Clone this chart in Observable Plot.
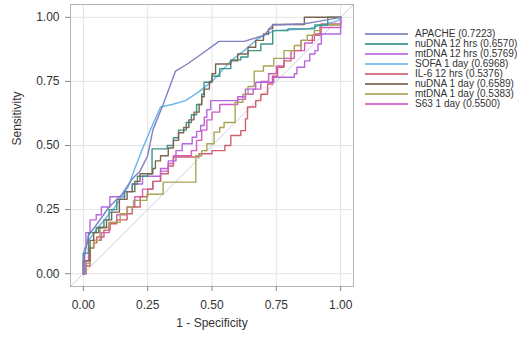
<!DOCTYPE html>
<html><head><meta charset="utf-8">
<script src="https://cdn.jsdelivr.net/npm/d3@7"></script>
<script src="https://cdn.jsdelivr.net/npm/@observablehq/plot@0.6"></script>
<style>
body{margin:0;background:#fff;}
#wrap{position:relative;width:527px;height:339px;font-family:"Liberation Sans",Arial,sans-serif;}
#legend{position:absolute;left:365px;top:29px;font-size:10px;color:#333;}
.row{display:flex;align-items:center;height:10px;line-height:10px;white-space:nowrap;}
.sw{display:block;width:43px;height:2px;margin-right:7px;opacity:0.85;}
</style>
</head><body>
<div id="wrap"><div id="chart"></div><div id="legend"></div></div>
<script>
const seriesNames = ["APACHE (0.7223)","nuDNA 12 hrs (0.6570)","mtDNA 12 hrs (0.5769)","SOFA 1 day (0.6968)","IL-6 12 hrs (0.5376)","nuDNA 1 day (0.6589)","mtDNA 1 day (0.5383)","S63 1 day (0.5500)"];
const seriesColors = ["#7f80c2","#3a9488","#b866e0","#6db8ea","#d0606e","#7d6450","#a9a556","#d25cc4"];
const tickValues = [0, 0.25, 0.5, 0.75, 1];
const xLabel = "1 - Specificity";
const yLabel = "Sensitivity";

// [1 - specificity, sensitivity]
const apache = [[0,0],[0,0.05],[0.02,0.15],[0.05,0.19],[0.1,0.26],[0.15,0.31],[0.19,0.37],[0.22,0.4],[0.25,0.46],[0.27,0.56],[0.31,0.66],[0.358,0.79],[0.404,0.818],[0.45,0.85],[0.527,0.906],[0.625,0.906],[0.703,0.93],[0.736,0.97],[0.86,0.975],[0.92,0.985],[1,1]];
const sofa = [[0,0],[0,0.08],[0.02,0.13],[0.057,0.18],[0.09,0.22],[0.123,0.26],[0.175,0.34],[0.2,0.41],[0.227,0.48],[0.26,0.56],[0.3,0.65],[0.345,0.66],[0.397,0.675],[0.45,0.71],[0.5,0.75],[0.573,0.83],[0.625,0.87],[0.677,0.916],[0.742,0.948],[0.872,0.955],[0.99,0.987],[1,1]];
const nu12 = [[0,0],[0,0.08],[0.02,0.16],[0.05,0.18],[0.08,0.21],[0.1,0.25],[0.13,0.29],[0.16,0.32],[0.19,0.35],[0.21,0.38],[0.25,0.39],[0.267,0.487],[0.326,0.5],[0.35,0.53],[0.37,0.56],[0.4,0.59],[0.42,0.62],[0.44,0.66],[0.46,0.7],[0.469,0.747],[0.5,0.77],[0.53,0.8],[0.573,0.834],[0.612,0.845],[0.64,0.87],[0.69,0.896],[0.736,0.948],[0.795,0.955],[0.9,0.97],[0.95,1],[1,1]];
const nu1 = [[0,0],[0,0.05],[0.026,0.13],[0.04,0.16],[0.06,0.18],[0.09,0.21],[0.11,0.24],[0.14,0.29],[0.17,0.32],[0.2,0.36],[0.22,0.39],[0.27,0.41],[0.28,0.44],[0.3,0.46],[0.33,0.49],[0.35,0.52],[0.37,0.55],[0.39,0.57],[0.41,0.6],[0.43,0.63],[0.45,0.66],[0.46,0.69],[0.47,0.72],[0.49,0.75],[0.5,0.78],[0.514,0.818],[0.573,0.83],[0.6,0.857],[0.64,0.883],[0.67,0.91],[0.7,0.935],[0.72,0.955],[0.736,0.972],[0.859,1],[1,1]];
const mt12 = [[0,0],[0.005,0.1],[0.01,0.16],[0.026,0.21],[0.05,0.23],[0.07,0.26],[0.103,0.3],[0.16,0.32],[0.19,0.35],[0.23,0.38],[0.3,0.41],[0.33,0.44],[0.36,0.48],[0.384,0.507],[0.423,0.532],[0.44,0.555],[0.456,0.578],[0.47,0.61],[0.48,0.64],[0.495,0.675],[0.6,0.69],[0.63,0.72],[0.67,0.747],[0.74,0.766],[0.82,0.78],[0.83,0.805],[0.86,0.83],[0.88,0.857],[0.9,0.87],[0.912,0.896],[0.925,0.935],[1,0.96],[1,1]];
const il6 = [[0,0],[0.01,0.03],[0.026,0.1],[0.04,0.12],[0.052,0.143],[0.08,0.17],[0.104,0.195],[0.13,0.21],[0.17,0.234],[0.19,0.26],[0.221,0.3],[0.25,0.33],[0.27,0.36],[0.3,0.39],[0.33,0.42],[0.35,0.455],[0.45,0.468],[0.5,0.48],[0.55,0.5],[0.573,0.539],[0.612,0.558],[0.63,0.604],[0.638,0.65],[0.67,0.675],[0.69,0.7],[0.716,0.74],[0.735,0.77],[0.755,0.805],[0.78,0.83],[0.807,0.87],[0.846,0.91],[0.898,0.935],[0.924,0.974],[1,0.974],[1,1]];
const mt1 = [[0,0],[0.01,0.04],[0.026,0.1],[0.04,0.13],[0.065,0.18],[0.1,0.2],[0.143,0.234],[0.17,0.26],[0.195,0.286],[0.247,0.31],[0.31,0.357],[0.437,0.46],[0.46,0.48],[0.48,0.507],[0.508,0.552],[0.53,0.57],[0.547,0.59],[0.59,0.669],[0.62,0.7],[0.64,0.73],[0.664,0.79],[0.7,0.81],[0.74,0.84],[0.78,0.87],[0.82,0.89],[0.846,0.91],[0.87,0.93],[0.898,0.948],[0.92,0.97],[1,0.97],[1,1]];
const s63 = [[0,0],[0.01,0.05],[0.02,0.1],[0.04,0.13],[0.07,0.16],[0.1,0.2],[0.13,0.23],[0.17,0.26],[0.2,0.3],[0.23,0.33],[0.27,0.36],[0.3,0.4],[0.33,0.43],[0.35,0.46],[0.42,0.48],[0.44,0.52],[0.46,0.56],[0.48,0.6],[0.5,0.63],[0.53,0.66],[0.6,0.68],[0.63,0.7],[0.66,0.72],[0.69,0.75],[0.72,0.78],[0.75,0.81],[0.78,0.84],[0.82,0.87],[0.86,0.9],[0.89,0.93],[0.92,0.96],[1,0.96],[1,1]];
const refLine = [-0.05, 1.05];

const series = [
  {data: apache, curve: "linear"},
  {data: nu12, curve: "step-after"},
  {data: mt12, curve: "step-after"},
  {data: sofa, curve: "linear"},
  {data: il6, curve: "step-after"},
  {data: nu1, curve: "step-after"},
  {data: mt1, curve: "step-after"},
  {data: s63, curve: "step-after"}
];

const lineMarks = series.map((s, i) => Plot.line(s.data, {x: d => d[0], y: d => d[1], curve: s.curve, stroke: seriesColors[i], strokeWidth: 1.4}));
const order = [7,4,6,2,3,1,5,0];

const chart = Plot.plot({
  width: 527, height: 339,
  marginLeft: 70, marginRight: 174, marginTop: 4, marginBottom: 53,
  style: {fontFamily: "'Liberation Sans', Arial, sans-serif", fontSize: "12px", color: "#333", background: "#fff"},
  x: {domain: [-0.05, 1.05]},
  y: {domain: [-0.05, 1.05]},
  marks: [
    Plot.gridX(tickValues, {stroke: "#e4e4e4", strokeOpacity: 1}),
    Plot.gridY(tickValues, {stroke: "#e4e4e4", strokeOpacity: 1}),
    Plot.line(refLine, {x: d => d, y: d => d, stroke: "#c8cfdc", strokeWidth: 1}),
    ...order.map(i => lineMarks[i]),
    Plot.frame({stroke: "#b4b4b4"}),
    Plot.axisX({ticks: tickValues, tickFormat: d => d.toFixed(2), tickSize: 5, tickPadding: 9, label: null, stroke: "#888", fontSize: 12}),
    Plot.axisY({ticks: tickValues, tickFormat: d => d.toFixed(2), tickSize: 5, tickPadding: 6, label: null, stroke: "#888", fontSize: 12}),
    Plot.text([xLabel], {text: d => d, frameAnchor: "bottom", dy: 40, fontSize: 12, fill: "#333"}),
    Plot.text([yLabel], {text: d => d, frameAnchor: "left", dx: -53, rotate: -90, fontSize: 12, fill: "#333"})
  ]
});
document.getElementById("chart").appendChild(chart);

const legend = document.getElementById("legend");
seriesNames.forEach((n, i) => {
  const row = document.createElement("div");
  row.className = "row";
  const sw = document.createElement("span");
  sw.className = "sw";
  sw.style.background = seriesColors[i];
  const t = document.createElement("span");
  t.textContent = n;
  row.appendChild(sw); row.appendChild(t);
  legend.appendChild(row);
});
</script>
</body></html>
